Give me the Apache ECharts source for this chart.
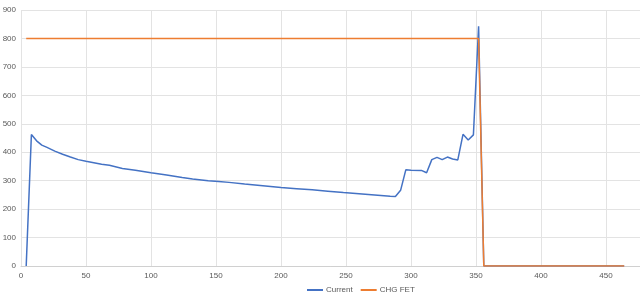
<!DOCTYPE html>
<html>
<head>
<meta charset="utf-8">
<script src="https://cdn.jsdelivr.net/npm/echarts@6/dist/echarts.min.js"></script>
<style>html,body{margin:0;padding:0;background:#fff}#c{width:640px;height:300px}</style>
</head>
<body>
<div id="c"></div>
<script>
var currentData = [[4,0],[8,462],[12,440],[16,425],[20,417],[26,404],[32,393],[38,383],[44,374],[50,368],[56,363],[62,358],[68,354],[78,343],[88,337],[100,328],[112,320],[124,311],[132,306],[144,300],[152,297],[160,294],[172,288],[184,283],[200,276],[212,272],[224,268],[236,263],[248,258],[260,254],[272,250],[284,245],[288,244],[292,266],[296,338],[300,337],[308,336],[312,328],[316,374],[320,382],[324,374],[328,383],[332,376],[336,373],[340,463],[344,443],[348,461],[352,843],[356,0],[464,0]];
var chgFetData = [[4,800],[352,800],[356,0],[464,0]];
var seriesNames = ['Current','CHG FET'];

var chart = echarts.init(document.getElementById('c'), null, {renderer:'canvas'});
chart.setOption({
  animation:false,
  backgroundColor:'#ffffff',
  grid:{left:21, top:10, width:650, height:256, containLabel:false, outerBoundsMode:'none'},
  xAxis:{type:'value', min:0, max:500, interval:50,
    axisLine:{show:true, lineStyle:{color:'#d0d0d0'}},
    axisTick:{show:false},
    axisLabel:{color:'#595959', fontSize:8, fontFamily:'Liberation Sans', margin:6},
    splitLine:{show:true, lineStyle:{color:'#e3e3e3', width:1}}},
  yAxis:{type:'value', min:0, max:900, interval:100,
    axisLine:{show:false},
    axisTick:{show:false},
    axisLabel:{color:'#595959', fontSize:8, fontFamily:'Liberation Sans', margin:5},
    splitLine:{show:true, lineStyle:{color:'#e3e3e3', width:1}}},
  legend:{bottom:1, left:302, itemWidth:16, itemHeight:2, itemGap:8,
    icon:'rect',
    textStyle:{color:'#595959', fontSize:8, fontFamily:'Liberation Sans', padding:[0,0,0,-2]},
    data:seriesNames},
  series:[
    {name:seriesNames[0], type:'line', data:currentData, showSymbol:false, symbol:'none',
      lineStyle:{color:'#4472C4', width:1.5}, itemStyle:{color:'#4472C4'}},
    {name:seriesNames[1], type:'line', data:chgFetData, showSymbol:false, symbol:'none',
      lineStyle:{color:'#ED7D31', width:1.5}, itemStyle:{color:'#ED7D31'}}
  ]
});
</script>
</body>
</html>
